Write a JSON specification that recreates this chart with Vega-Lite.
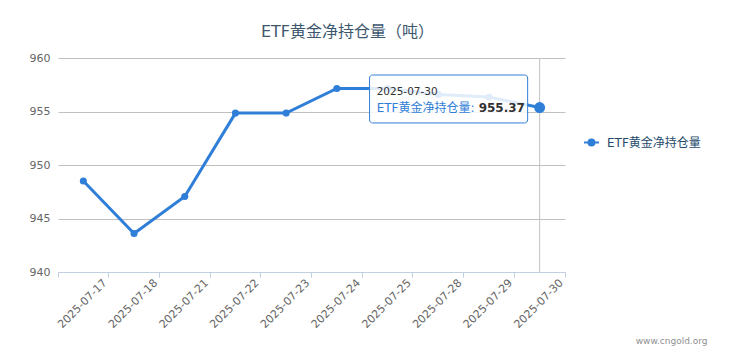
{
  "$schema": "https://vega.github.io/schema/vega-lite/v6.json",
  "autosize": "none",
  "width": 507,
  "height": 214,
  "padding": {"left": 58, "top": 58, "right": 171, "bottom": 90},
  "background": "white",
  "config": {
    "font": "DejaVu Sans, Noto Sans CJK SC",
    "view": {"stroke": null},
    "axisY": {
      "tickCount": 5,
      "grid": true,
      "gridColor": "#C0C0C0",
      "gridWidth": 1,
      "ticks": false,
      "domain": false,
      "labelPadding": 8,
      "labelFontSize": 11,
      "labelColor": "#666666"
    }
  },
  "title": {
    "text": "ETF黄金净持仓量（吨）",
    "fontSize": 16,
    "fontWeight": "normal",
    "color": "#3E576F",
    "font": "DejaVu Sans, Noto Sans CJK SC",
    "anchor": "middle",
    "dx": 36,
    "offset": 12
  },
  "datasets": {
    "etf": [
      {"date": "2025-07-17", "value": 948.5},
      {"date": "2025-07-18", "value": 943.6},
      {"date": "2025-07-21", "value": 947.05},
      {"date": "2025-07-22", "value": 954.85},
      {"date": "2025-07-23", "value": 954.85},
      {"date": "2025-07-24", "value": 957.15},
      {"date": "2025-07-25", "value": 957.15},
      {"date": "2025-07-28", "value": 956.6},
      {"date": "2025-07-29", "value": 956.35},
      {"date": "2025-07-30", "value": 955.37}
    ],
    "hover": [{"date": "2025-07-30"}],
    "tipbox": [{"from": "2025-07-25", "to": "2025-07-30", "top": 958.41, "bottom": 953.93}],
    "tipheader": [{"date": "2025-07-30", "y": 956.82, "label": "2025-07-30"}],
    "tipname": [{"date": "2025-07-30", "y": 955.33, "label": "ETF黄金净持仓量: "}],
    "tipvalue": [{"date": "2025-07-30", "y": 955.33, "label": "955.37"}]
  },
  "resolve": {"axis": {"x": "independent"}},
  "layer": [
    {
      "data": {"name": "hover"},
      "mark": {"type": "rule", "color": "#C0C0C0", "strokeWidth": 1},
      "encoding": {
        "x": {"field": "date", "type": "ordinal", "sort": null, "axis": null,
              "scale": {"type": "band", "paddingInner": 0, "paddingOuter": 0}}
      }
    },
    {
      "data": {"name": "etf"},
      "mark": {"type": "line", "strokeWidth": 3, "color": "#2f7ed8"},
      "encoding": {
        "x": {
          "field": "date", "type": "ordinal", "sort": null,
          "scale": {"type": "band", "paddingInner": 0, "paddingOuter": 0},
          "axis": {
            "orient": "bottom",
            "bandPosition": 1,
            "labelAngle": -45,
            "labelAlign": "right",
            "labelBaseline": "middle",
            "labelFontSize": 11,
            "labelColor": "#666666",
            "labelPadding": 4,
            "labelOffset": 22,
            "tickSize": 5,
            "tickColor": "#C0D0E0",
            "domainColor": "#C0D0E0",
            "grid": false,
            "title": "www.cngold.org",
            "titleAnchor": "end",
            "titleAlign": "right",
            "titleX": 649,
            "titleY": 68,
            "titleBaseline": "middle",
            "titleFontSize": 9,
            "titleFontWeight": "normal",
            "titleColor": "#909090"
          }
        },
        "y": {
          "field": "value", "type": "quantitative",
          "scale": {"domain": [940, 960], "nice": false, "zero": false},
          "axis": {"title": null}
        },
        "color": {
          "datum": "ETF黄金净持仓量",
          "scale": {"range": ["#2f7ed8"]},
          "legend": {
            "title": null,
            "orient": "none",
            "legendX": 525,
            "legendY": 76,
            "padding": 0,
            "symbolType": "M-1,0H1M-0.4,0A0.4,0.4,0,1,0,0.4,0A0.4,0.4,0,1,0,-0.4,0Z",
            "symbolSize": 225,
            "symbolStrokeWidth": 2,
            "symbolFillColor": "#2f7ed8",
            "symbolStrokeColor": "#2f7ed8",
            "labelFontSize": 12,
            "labelColor": "#274b6d",
            "labelOffset": 7
          }
        }
      }
    },
    {
      "data": {"name": "etf"},
      "mark": {"type": "point", "filled": true, "opacity": 1, "color": "#2f7ed8"},
      "encoding": {
        "x": {
          "field": "date", "type": "ordinal", "sort": null,
          "scale": {"type": "band", "paddingInner": 0, "paddingOuter": 0},
          "axis": {
            "orient": "bottom",
            "bandPosition": 0,
            "labels": false,
            "tickSize": 5,
            "tickColor": "#C0D0E0",
            "domainColor": "#C0D0E0",
            "grid": false,
            "title": null
          }
        },
        "y": {"field": "value", "type": "quantitative", "axis": {"title": null}},
        "size": {
          "condition": {"test": "datum.date === '2025-07-30'", "value": 120},
          "value": 50
        }
      }
    },
    {
      "data": {"name": "tipbox"},
      "mark": {"type": "rect", "fill": "white", "fillOpacity": 0.85, "stroke": "#2f7ed8", "strokeWidth": 1, "cornerRadius": 3, "xOffset": -18, "x2Offset": -12},
      "encoding": {
        "x": {"field": "from", "type": "ordinal", "axis": null},
        "x2": {"field": "to"},
        "y": {"field": "top", "type": "quantitative", "axis": {"title": null}},
        "y2": {"field": "bottom"}
      }
    },
    {
      "data": {"name": "tipheader"},
      "mark": {"type": "text", "align": "left", "baseline": "middle", "dx": -163, "fontSize": 10.5, "color": "#333333"},
      "encoding": {
        "x": {"field": "date", "type": "ordinal", "axis": null},
        "y": {"field": "y", "type": "quantitative", "axis": {"title": null}},
        "text": {"field": "label"}
      }
    },
    {
      "data": {"name": "tipname"},
      "mark": {"type": "text", "align": "left", "baseline": "middle", "dx": -163, "fontSize": 12, "color": "#2f7ed8"},
      "encoding": {
        "x": {"field": "date", "type": "ordinal", "axis": null},
        "y": {"field": "y", "type": "quantitative", "axis": {"title": null}},
        "text": {"field": "label"}
      }
    },
    {
      "data": {"name": "tipvalue"},
      "mark": {"type": "text", "align": "left", "baseline": "middle", "dx": -61, "fontSize": 12, "fontWeight": "bold", "color": "#333333"},
      "encoding": {
        "x": {"field": "date", "type": "ordinal", "axis": null},
        "y": {"field": "y", "type": "quantitative", "axis": {"title": null}},
        "text": {"field": "label"}
      }
    }
  ]
}
